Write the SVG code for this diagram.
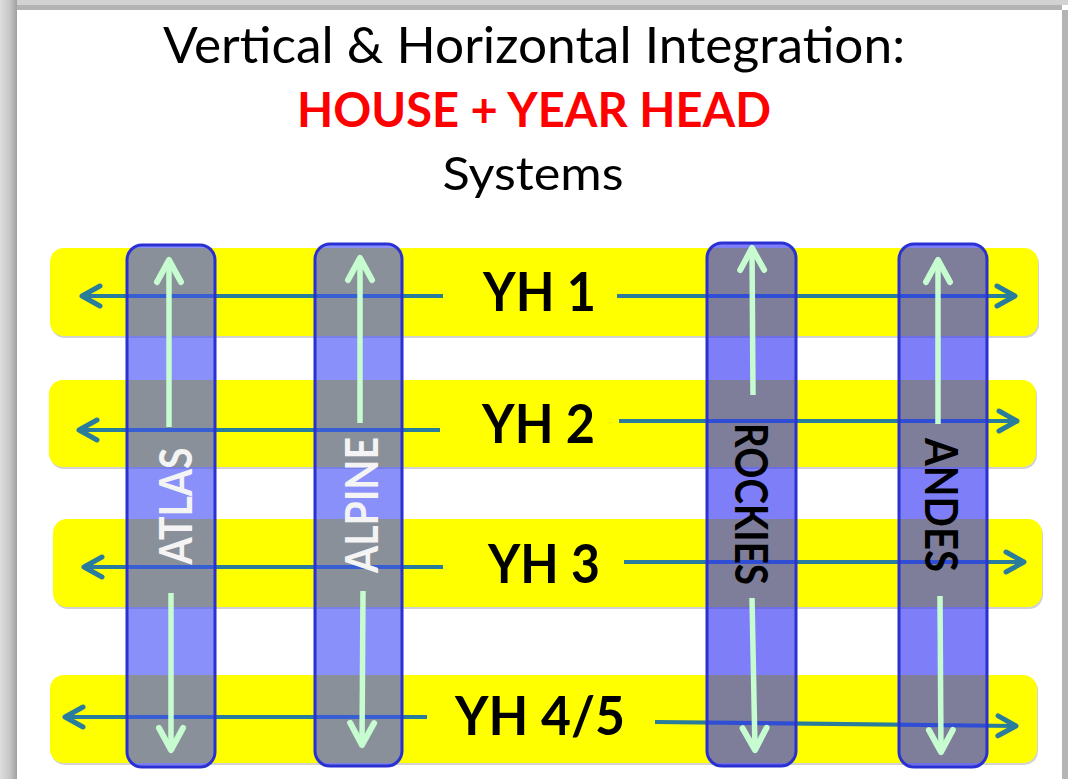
<svg xmlns="http://www.w3.org/2000/svg" width="1068" height="779" viewBox="0 0 1068 779">
<style>
.title{font-family:Lato,"Open Sans","Liberation Sans",sans-serif;text-anchor:middle}
.band{fill:#ffff00}
.shadow{fill:#d2d2d2}
.hline{stroke:#2a7c9c;stroke-width:4.2;fill:none;marker-end:url(#hArrow)}
.vline{stroke:#c6fcd0;stroke-width:5.5;fill:none;marker-end:url(#vArrow)}
.barA{fill:rgb(64,76,247);fill-opacity:0.62;stroke:#2b30d2;stroke-width:3}
.barB{fill:rgb(51,51,244);fill-opacity:0.63;stroke:#2b30d2;stroke-width:3}
.yh{font-family:Lato,"Open Sans","Liberation Sans",sans-serif;font-weight:bold;font-size:53px;text-anchor:middle;fill:#000}
.vlab{font-family:Lato,"Open Sans","Liberation Sans",sans-serif;font-weight:bold;font-size:45px;text-anchor:middle}
</style>
<defs>
<linearGradient id="leftEdge" x1="0" y1="0" x2="1" y2="0">
<stop offset="0" stop-color="#dedede"/>
<stop offset="0.6" stop-color="#c4c4c4"/>
<stop offset="1" stop-color="#a0a0a0"/>
</linearGradient>
<marker id="hArrow" markerUnits="userSpaceOnUse" orient="auto" refX="0" refY="0" markerWidth="40" markerHeight="40" overflow="visible">
<path d="M-18,-10 L0,0 L-18,10" fill="none" stroke="#2a7c9c" stroke-width="5" stroke-linecap="round" stroke-linejoin="round"/>
</marker>
<marker id="vArrow" markerUnits="userSpaceOnUse" orient="auto" refX="0" refY="0" markerWidth="40" markerHeight="40" overflow="visible">
<path d="M-22,-12 L0,0 L-22,12" fill="none" stroke="#c6fcd0" stroke-width="6" stroke-linecap="round" stroke-linejoin="round"/>
</marker>
</defs>
<rect width="1068" height="779" fill="#ffffff"/>
<g id="frame">
<rect x="0" y="0" width="1068" height="5" fill="#d2d2d2"/>
<rect x="0" y="5" width="1062" height="5" fill="#b3b3b3"/>
<rect x="0" y="0" width="17" height="779" fill="url(#leftEdge)"/>
<rect x="1062" y="10" width="6" height="769" fill="#b4b4b4"/>
</g>
<g id="title">
<text class="title" x="534" y="63" font-size="50" textLength="742" lengthAdjust="spacingAndGlyphs" fill="#000">Vertical &amp; Horizontal Integration:</text>
<text class="title" x="534" y="127" font-size="48" font-weight="bold" textLength="474" lengthAdjust="spacingAndGlyphs" fill="#ff0000">HOUSE + YEAR HEAD</text>
<text class="title" x="533" y="190" font-size="46" textLength="181" lengthAdjust="spacingAndGlyphs" fill="#000">Systems</text>
</g>
<g id="yh1">
<rect class="shadow" x="51" y="250" width="988" height="88" rx="14"/>
<rect class="band" x="50" y="248" width="988" height="88" rx="14"/>
<text class="yh" x="539.5" y="311" textLength="113" lengthAdjust="spacingAndGlyphs">YH 1</text>
</g>
<g id="yh2">
<rect class="shadow" x="50" y="382" width="987" height="87" rx="14"/>
<rect class="band" x="49" y="380" width="987" height="87" rx="14"/>
<text class="yh" x="538.5" y="443" textLength="113" lengthAdjust="spacingAndGlyphs">YH 2</text>
</g>
<g id="yh3">
<rect class="shadow" x="54" y="521" width="989" height="88" rx="14"/>
<rect class="band" x="53" y="519" width="989" height="88" rx="14"/>
<text class="yh" x="544" y="583" textLength="112" lengthAdjust="spacingAndGlyphs">YH 3</text>
</g>
<g id="yh45">
<rect class="shadow" x="51" y="677" width="987" height="88" rx="14"/>
<rect class="band" x="50" y="675" width="987" height="88" rx="14"/>
<text class="yh" x="540" y="735" textLength="170" lengthAdjust="spacingAndGlyphs">YH 4/5</text>
</g>
<g id="connectors-horizontal">
<line class="hline" x1="443" y1="296" x2="82" y2="296"/>
<line class="hline" x1="617" y1="296" x2="1015" y2="296"/>
<line class="hline" x1="440" y1="430" x2="79" y2="430"/>
<line class="hline" x1="619" y1="421" x2="1017" y2="421"/>
<line class="hline" x1="443" y1="567" x2="84" y2="567"/>
<line class="hline" x1="624" y1="562" x2="1024" y2="562"/>
<line class="hline" x1="427" y1="717" x2="65" y2="717"/>
<line class="hline" x1="655" y1="722" x2="1016" y2="726"/>
</g>
<g id="atlas">
<rect class="barA" x="127" y="245" width="88" height="522" rx="15"/>
</g>
<g id="alpine">
<rect class="barA" x="315" y="244" width="87" height="522" rx="15"/>
</g>
<g id="rockies">
<rect class="barB" x="707" y="243" width="89" height="523" rx="15"/>
</g>
<g id="andes">
<rect class="barB" x="899" y="244" width="88" height="523" rx="15"/>
</g>
<g id="connectors-vertical">
<line class="vline" x1="169" y1="427" x2="169" y2="260"/>
<line class="vline" x1="171" y1="593" x2="171" y2="750"/>
<line class="vline" x1="360" y1="423" x2="360" y2="258"/>
<line class="vline" x1="363" y1="591" x2="362" y2="745"/>
<line class="vline" x1="753" y1="395" x2="752" y2="248"/>
<line class="vline" x1="752" y1="598" x2="755" y2="750"/>
<line class="vline" x1="938" y1="424" x2="938" y2="260"/>
<line class="vline" x1="940" y1="596" x2="941" y2="752"/>
</g>
<g id="labels">
<text class="vlab" fill="#f4f4f4" transform="translate(192,506) rotate(-90)" textLength="117" lengthAdjust="spacingAndGlyphs">ATLAS</text>
<text class="vlab" fill="#f4f4f4" transform="translate(378,505) rotate(-90)" textLength="136" lengthAdjust="spacingAndGlyphs">ALPINE</text>
<text class="vlab" fill="#000" transform="translate(735,504) rotate(90)" textLength="162" lengthAdjust="spacingAndGlyphs">ROCKIES</text>
<text class="vlab" fill="#000" transform="translate(925,505) rotate(90)" textLength="134" lengthAdjust="spacingAndGlyphs">ANDES</text>
</g>
</svg>
